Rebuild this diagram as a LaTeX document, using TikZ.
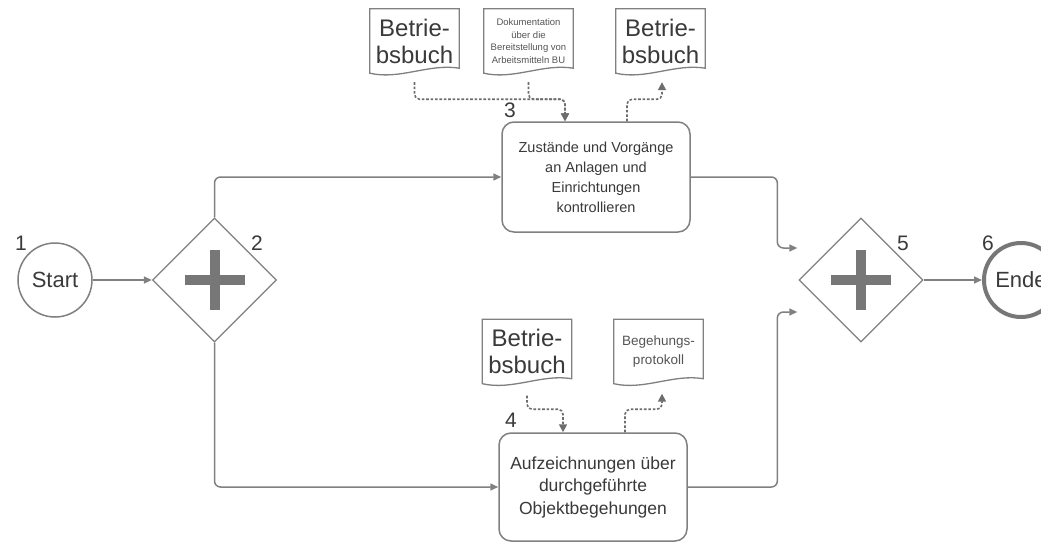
\documentclass[tikz,border=0pt]{standalone}
\usepackage{fontspec}
\setmainfont{Liberation Sans}
\usetikzlibrary{arrows.meta,shapes.geometric,calc}
\definecolor{lgrey}{HTML}{808080}
\definecolor{pgrey}{HTML}{777777}
\definecolor{tgrey}{HTML}{3A3A3A}
\definecolor{sgrey}{HTML}{555555}
\newcommand\docoutline[1]{%
  \draw[docline] (#1.north west) -- (#1.north east) -- ([yshift=5pt]#1.south east)
    .. controls ([xshift=-30pt,yshift=10pt]#1.south east) and ([xshift=30pt,yshift=-7pt]#1.south west) .. (#1.south west) -- cycle;}
\begin{document}
\begin{tikzpicture}[x=1pt,y=-1pt,
 flow/.style={draw=lgrey,line width=1.5pt,rounded corners=6pt,-{Triangle[length=8pt,width=7pt]}},
 assoc/.style={draw=lgrey!85!black,line width=1.6pt,dash pattern=on 2.6pt off 1.8pt,rounded corners=5pt,-{Triangle[length=8pt,width=8pt]}},
 task/.style={draw=lgrey,line width=1.5pt,rounded corners=12pt,fill=white,minimum width=188pt,align=center,inner sep=0pt,text=tgrey},
 doc/.style={minimum width=89pt,minimum height=64pt,inner sep=0pt,align=center,text=tgrey},
 docline/.style={draw=lgrey,line width=1.3pt},
 gate/.style={diamond,draw=lgrey,line width=1.3pt,minimum width=124pt,minimum height=124pt,inner sep=0pt,fill=white},
 num/.style={text=tgrey,font=\fontsize{21}{21}\selectfont,inner sep=0pt},
 evt/.style={circle,draw=lgrey,minimum size=74pt,inner sep=0pt,text=tgrey,font=\fontsize{22}{22}\selectfont},
 bigdoc/.style={font=\fontsize{24}{27}\selectfont},
]
\clip (0,0) rectangle (1041,541);
\fill[white] (0,0) rectangle (1041,541);

% events
\node[evt,line width=1.5pt] (start) at (55,280) {Start};
\node[evt,line width=4pt,draw=pgrey] (ende) at (1021,280) {Ende};

% gateways
\node[gate] (g2) at (214.5,280) {};
\node[gate] (g5) at (861,280) {};
\foreach \g in {g2,g5}{
  \fill[pgrey] ([xshift=-30pt,yshift=-5pt]\g.center) rectangle ([xshift=30pt,yshift=5pt]\g.center);
  \fill[pgrey] ([xshift=-5pt,yshift=-30pt]\g.center) rectangle ([xshift=5pt,yshift=30pt]\g.center);
}

% tasks
\node[task,minimum height=110pt,font=\fontsize{14.5}{20}\selectfont] (t3) at (596,177)
  {Zustände und Vorgänge\\an Anlagen und\\Einrichtungen\\kontrollieren};
\node[task,minimum height=108pt,font=\fontsize{17.5}{22.5}\selectfont] (t4) at (593,487)
  {Aufzeichnungen über\\durchgeführte\\Objektbegehungen};

% documents
\node[doc,bigdoc] (d1) at (414.5,41) {Betrie-\\bsbuch};
\node[doc,font=\fontsize{9.5}{12.5}\selectfont,text=sgrey] (d2) at (528.5,41)
  {Dokumentation\\über die\\Bereitstellung von\\Arbeitsmitteln BU};
\node[doc,bigdoc] (d3) at (660.5,41) {Betrie-\\bsbuch};
\node[doc,bigdoc] (d4) at (527,351.5) {Betrie-\\bsbuch};
\node[doc,font=\fontsize{13.5}{19}\selectfont,text=sgrey] (d5) at (658.5,351.5) {Begehungs-\\protokoll};
\foreach \d in {d1,d2,d3,d4,d5}{\docoutline{\d}}

% numbers
\node[num] (n1) at (21,243) {1};
\node[num] (n2) at (257,243) {2};
\node[num] (n3) at (510,110) {3};
\node[num] (n4) at (511,420) {4};
\node[num] (n5) at (903,243) {5};
\node[num] (n6) at (988,243) {6};

% sequence flows
\draw[flow] (start) -- (g2);
\draw[flow] (g2.north) |- (t3.west);
\draw[flow] (g2.south) |- (t4.west);
\draw[flow] (t3.east) -| ([xshift=-21pt,yshift=32pt]g5.west) -- ([xshift=-1pt,yshift=32pt]g5.west);
\draw[flow] (t4.east) -| ([xshift=-21pt,yshift=-32pt]g5.west) -- ([xshift=-1pt,yshift=-32pt]g5.west);
\draw[flow] (g5) -- (ende);

% associations
\coordinate (t3in) at ([xshift=-31pt]t3.north);
\coordinate (t3out) at ([xshift=31pt]t3.north);
\coordinate (t4in) at ([xshift=-30pt]t4.north);
\coordinate (t4out) at ([xshift=32pt]t4.north);
\draw[assoc] ([yshift=-9pt]d1.south) |- ([yshift=22pt]t3in) -- (t3in);
\draw[assoc] ([yshift=-9pt]d2.south) |- ([yshift=22pt]t3in) -- (t3in);
\draw[assoc] (t3out) -- ([yshift=22pt]t3out) -| ([xshift=1.5pt,yshift=-9pt]d3.south);
\draw[assoc] ([yshift=-12pt]d4.south) |- ([yshift=23pt]t4in) -- (t4in);
\draw[assoc] (t4out) -- ([yshift=23pt]t4out) -| ([xshift=3.5pt,yshift=-10pt]d5.south);
\end{tikzpicture}
\end{document}
